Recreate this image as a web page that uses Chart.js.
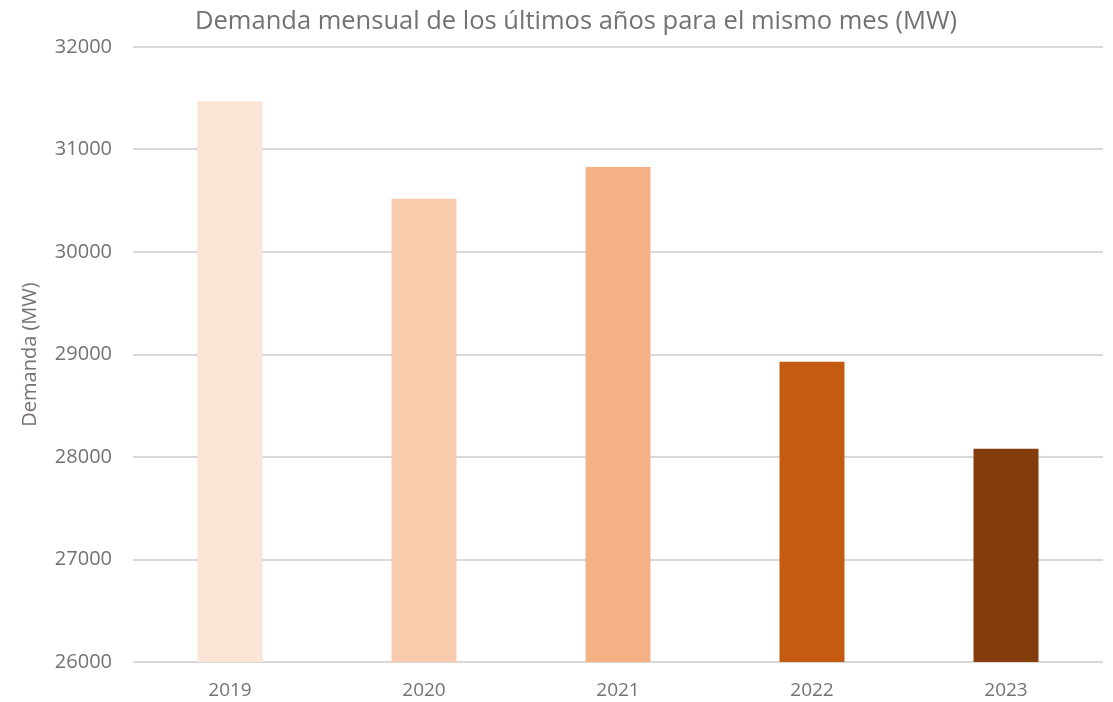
<!DOCTYPE html>
<html>
<head>
<meta charset="utf-8">
<script src="https://cdn.jsdelivr.net/npm/chart.js@4.4.0/dist/chart.umd.min.js"></script>
<style>
  html, body { margin: 0; padding: 0; background: #fff; }
  #wrap { width: 1113px; height: 702px; }
</style>
</head>
<body>
<div id="wrap"><canvas id="grafico"></canvas></div>
<script>
// Datos del gráfico
const anos = ['2019', '2020', '2021', '2022', '2023'];
const demanda = [31470, 30520, 30830, 28930, 28080];
const colores = ['#FBE5D6', '#F8CBAD', '#F4B183', '#C55A11', '#843C0C'];
const ticksY = [26000, 27000, 28000, 29000, 30000, 31000, 32000];

const fuente = '"Open Sans", Lato, sans-serif';
const gris = '#767171';

// Título dibujado a mano para poder centrarlo donde está en la imagen
const tituloPlugin = {
    id: 'tituloPlugin',
    afterDraw(chart) {
        const ctx = chart.ctx;
        ctx.save();
        ctx.font = '25.5px ' + fuente;
        ctx.fillStyle = gris;
        ctx.textAlign = 'center';
        ctx.textBaseline = 'middle';
        ctx.fillText('Demanda mensual de los últimos años para el mismo mes (MW)', 576, 22);
        ctx.restore();
    }
};

new Chart(document.getElementById('grafico'), {
    type: 'bar',
    data: {
        labels: anos,
        datasets: [{
            label: 'Demanda (MW)',
            data: demanda,
            backgroundColor: colores,
            barPercentage: 0.335,
            categoryPercentage: 1
        }]
    },
    options: {
        responsive: true,
        maintainAspectRatio: false,
        animation: false,
        layout: { padding: { top: 47, right: 10, left: 0, bottom: 0 } },
        plugins: {
            legend: { display: false },
            tooltip: { enabled: false }
        },
        scales: {
            x: {
                grid: { display: false, drawTicks: false },
                border: { display: false },
                ticks: { color: gris, font: { family: fuente, size: 19 }, padding: 17 },
                afterFit(scale) { scale.height = 40; }
            },
            y: {
                min: 26000,
                max: 32000,
                afterBuildTicks(scale) { scale.ticks = ticksY.map(v => ({ value: v })); },
                grid: { color: '#d9d9d9', lineWidth: 2, drawTicks: false },
                border: { display: false },
                ticks: {
                    color: gris,
                    font: { family: fuente, size: 20 },
                    padding: 21,
                    callback: v => String(v)
                },
                title: {
                    display: true,
                    text: 'Demanda (MW)',
                    color: gris,
                    font: { family: fuente, size: 20 },
                    padding: { top: 18, bottom: 0 }
                },
                afterFit(scale) { scale.width = 133; }
            }
        }
    },
    plugins: [tituloPlugin]
});
</script>
</body>
</html>
